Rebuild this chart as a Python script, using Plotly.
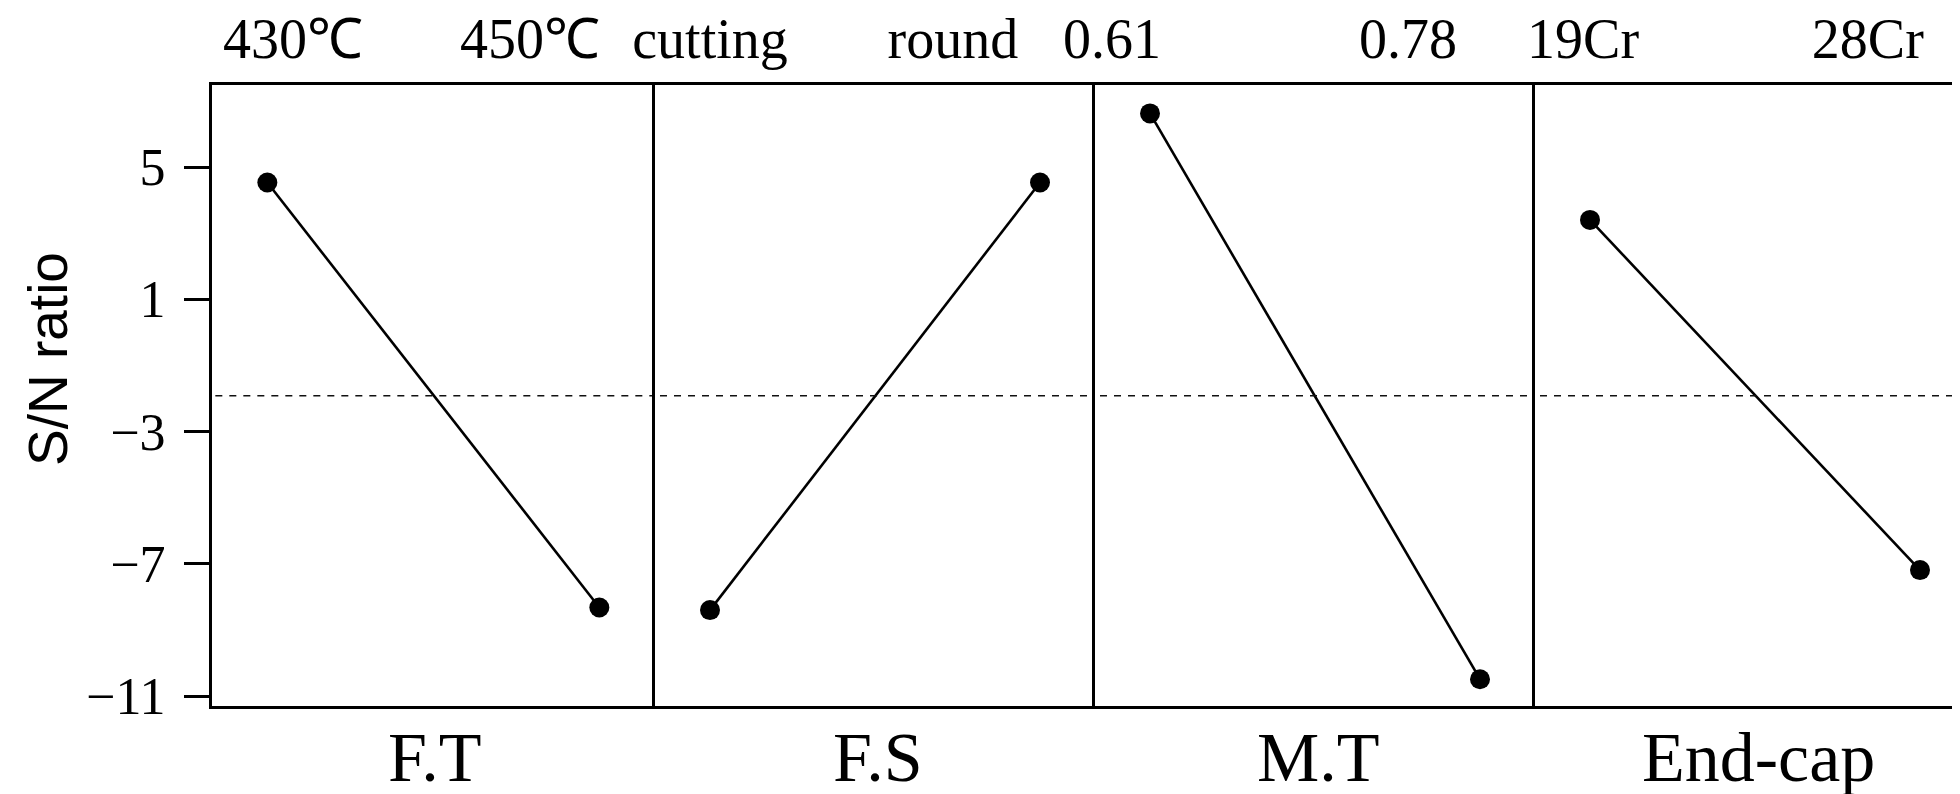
import plotly.graph_objects as go
import numpy as np

# ---------------- data ----------------
factors = ["F.T", "F.S", "M.T", "End-cap"]
levels = [["430℃", "450℃"], ["cutting", "round"], ["0.61", "0.78"], ["19Cr", "28Cr"]]
sn_values = [[4.53, -8.32], [-8.40, 4.53], [6.62, -10.49], [3.40, -7.19]]
y_ticks = [5, 1, -3, -7, -11]
y_title = "S/N ratio"

# ---------------- layout settings ----------------
BODY = 8                      # default page margin of the html body
W, H = 1960 - BODY, 794 - BODY
ML, MR, MT, MB = 212 - BODY, 0, 85 - BODY, 88
plot_w = W - ML - MR
panel_edges_px = [0, 443, 883, 1323, plot_w]          # panel borders inside plot area
px_per_unit = 330.0
level_label_pos = [[0.077, 0.791], [0.0, 0.736], [-0.115, 0.782], [-0.021, 0.842]]
y_range = [-11.3, 7.48]

serif = "Liberation Serif, Times New Roman, serif"
sans = "Liberation Sans, Arial, sans-serif"

fig = go.Figure()
grand_mean = float(np.mean(sn_values))

for i in range(4):
    xa = "x" if i == 0 else f"x{i+1}"
    ya = "y" if i == 0 else f"y{i+1}"
    fig.add_trace(go.Scatter(
        x=[0, 1], y=sn_values[i], mode="lines+markers",
        line=dict(color="black", width=2.6),
        marker=dict(color="black", size=20),
        xaxis=xa, yaxis=ya, showlegend=False, hoverinfo="x+y",
    ))
    # grand mean dashed reference line
    fig.add_trace(go.Scatter(
        x=[-1, 3], y=[grand_mean, grand_mean], mode="lines",
        line=dict(color="#111", width=1.5, dash="7px,7px"),
        xaxis=xa, yaxis=ya, showlegend=False, hoverinfo="skip",
    ))

    d0 = panel_edges_px[i] / plot_w
    d1 = panel_edges_px[i + 1] / plot_w
    width_px = panel_edges_px[i + 1] - panel_edges_px[i]
    x0 = -1.0 / 6.0
    key_x = "xaxis" if i == 0 else f"xaxis{i+1}"
    key_y = "yaxis" if i == 0 else f"yaxis{i+1}"
    fig.layout[key_x] = dict(
        domain=[d0, d1], range=[x0, x0 + width_px / (332.0 if i == 0 else px_per_unit)],
        anchor=ya, side="top", showline=True, mirror=True, linecolor="black", linewidth=3.2,
        showgrid=False, zeroline=False, ticks="",
        tickvals=level_label_pos[i], ticktext=levels[i],
        tickfont=dict(family=serif, size=56, color="black"),
        ticklabelstandoff=2, fixedrange=True,
    )
    ydict = dict(
        range=y_range, anchor=xa, showline=True, linecolor="black",
        linewidth=3.2 if i == 0 else 2.6,
        showgrid=False, zeroline=False, fixedrange=True,
    )
    if i == 0:
        ydict.update(
            tickvals=y_ticks,
            ticktext=[str(v).replace("-", "\u2212") for v in y_ticks],
            ticks="outside", ticklen=25, tickwidth=3, tickcolor="black",
            tickfont=dict(family=serif, size=52, color="black"),
            ticklabelstandoff=8,
        )
    else:
        ydict.update(matches="y", showticklabels=False, ticks="")
    fig.layout[key_y] = ydict

    center_px = (panel_edges_px[i] + panel_edges_px[i] + 440) / 2
    fig.add_annotation(
        x=center_px / plot_w,
        y=0, xref="paper", yref="paper", yshift=-51, xshift=3,
        text=factors[i], showarrow=False, yanchor="middle", xanchor="center",
        font=dict(family=serif, size=70, color="black"),
    )

fig.add_annotation(
    x=(48 - ML - BODY) / plot_w, y=(794 - MB - 359) / (H - MT - MB), xref="paper", yref="paper",
    text=y_title, textangle=-90, showarrow=False, xanchor="center", yanchor="middle",
    font=dict(family=sans, size=55, color="black"),
)

fig.update_layout(
    width=W, height=H, margin=dict(l=ML, r=MR, t=MT, b=MB, pad=0),
    paper_bgcolor="white", plot_bgcolor="white",
)

fig.write_html("out.html", config={"displayModeBar": False})
